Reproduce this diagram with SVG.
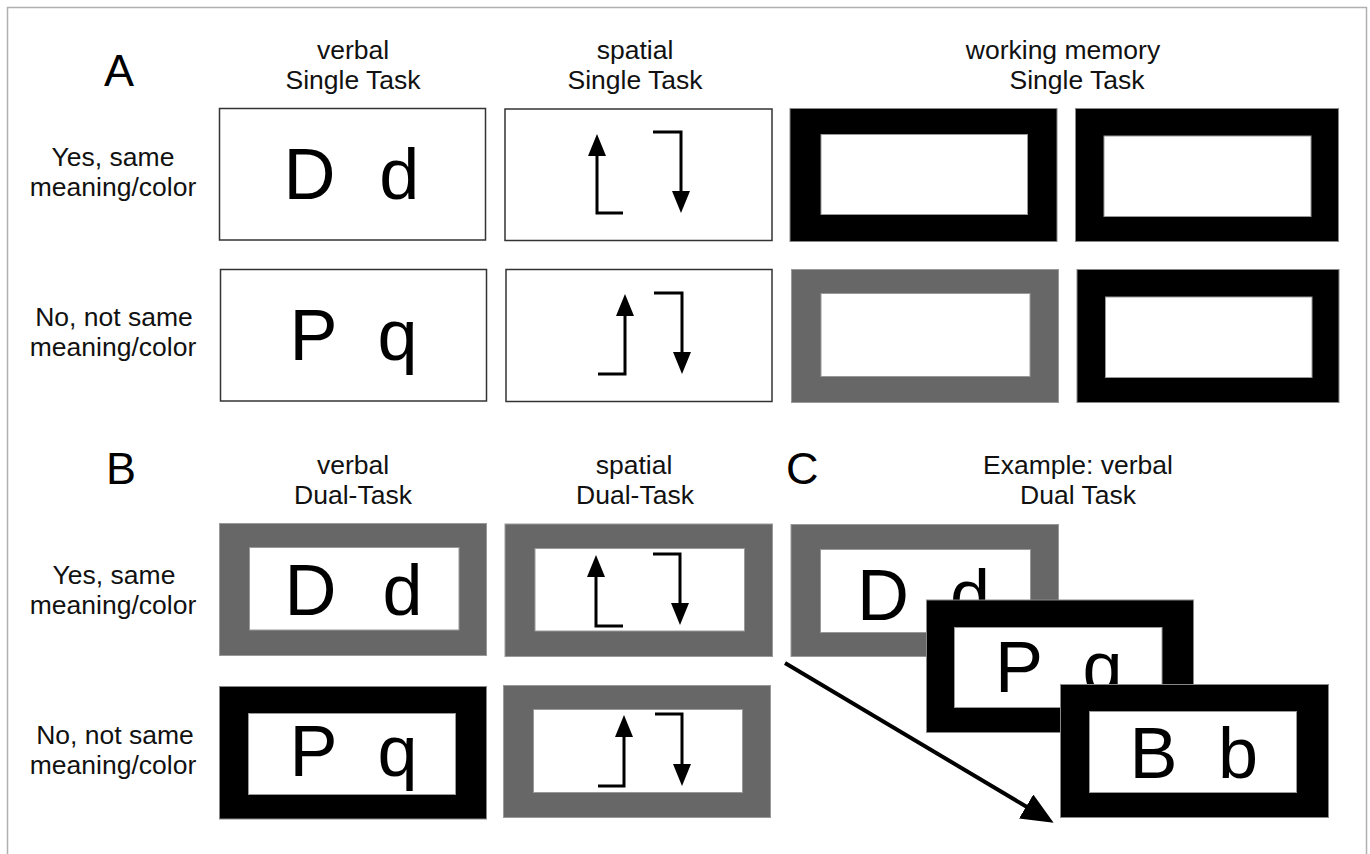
<svg xmlns="http://www.w3.org/2000/svg" width="1370" height="854" viewBox="0 0 1370 854">
<defs>
<style>
.lbl{font-family:"Liberation Sans",Arial,sans-serif;font-size:26.5px;fill:#111;text-anchor:middle}
.pl{font-family:"Liberation Sans",Arial,sans-serif;font-size:45px;fill:#000}
.big{font-family:"Liberation Sans",Arial,sans-serif;font-size:72px;fill:#000}
.plain{fill:#fff;stroke:#333;stroke-width:1.5}
.blk{fill:#000;stroke:#888;stroke-width:1}
.gry{fill:#676767;stroke:#999;stroke-width:1}
.inn{fill:#fff;stroke:#999;stroke-width:1}
.sa{fill:none;stroke:#000;stroke-width:3;marker-end:url(#ah)}
.conn{fill:none;stroke:#000;stroke-width:4;marker-end:url(#bigah)}
</style>
<marker id="ah" viewBox="0 0 22 18" refX="0" refY="9" markerWidth="22" markerHeight="18" markerUnits="userSpaceOnUse" orient="auto"><path d="M0,0 L22,9 L0,18 z" fill="#000"/></marker>
<marker id="bigah" viewBox="0 0 32 28" refX="1" refY="14" markerWidth="32" markerHeight="28" markerUnits="userSpaceOnUse" orient="auto"><path d="M0,0 L32,14 L0,28 z" fill="#000"/></marker>
</defs>
<rect x="0" y="0" width="1370" height="854" fill="#fff"/>
<rect x="7.5" y="7.5" width="1359" height="870" fill="#fff" stroke="#b0b0b0" stroke-width="1.5"/>

<g id="labels">
<text class="pl" x="104" y="86">A</text>
<text class="pl" x="106" y="484">B</text>
<text class="pl" x="786" y="484">C</text>
<text class="lbl" x="353" y="59">verbal</text>
<text class="lbl" x="353" y="89">Single Task</text>
<text class="lbl" x="635" y="59">spatial</text>
<text class="lbl" x="635" y="89">Single Task</text>
<text class="lbl" x="1063" y="59">working memory</text>
<text class="lbl" x="1077" y="89">Single Task</text>
<text class="lbl" x="353" y="474">verbal</text>
<text class="lbl" x="353" y="504">Dual-Task</text>
<text class="lbl" x="634" y="474">spatial</text>
<text class="lbl" x="635" y="504">Dual-Task</text>
<text class="lbl" x="1078" y="474">Example: verbal</text>
<text class="lbl" x="1078" y="504">Dual Task</text>
<text class="lbl" x="113" y="166">Yes, same</text>
<text class="lbl" x="113" y="196">meaning/color</text>
<text class="lbl" x="114" y="326">No, not same</text>
<text class="lbl" x="113" y="356">meaning/color</text>
<text class="lbl" x="114" y="584">Yes, same</text>
<text class="lbl" x="113" y="614">meaning/color</text>
<text class="lbl" x="115" y="744">No, not same</text>
<text class="lbl" x="113" y="774">meaning/color</text>
</g>

<g id="verbal-single-yes">
<rect class="plain" x="219.5" y="108.5" width="266" height="131.5"/>
<text class="big" x="283.5 335 379.3" y="199">D d</text>
</g>
<g id="verbal-single-no">
<rect class="plain" x="220.5" y="269.5" width="266" height="131.5"/>
<text class="big" x="289.5 335 377.5" y="360">P q</text>
</g>
<g id="spatial-single-yes">
<rect class="plain" x="505" y="109" width="267" height="131.5"/>
<path class="sa" d="M623,213 H597 V156"/>
<path class="sa" d="M653,132 H681 V191"/>
</g>
<g id="spatial-single-no">
<rect class="plain" x="506" y="269.5" width="266" height="132"/>
<path class="sa" d="M598,374 H625 V316"/>
<path class="sa" d="M654,293 H682 V352"/>
</g>
<g id="wm-single-1">
<rect class="blk" x="790" y="108.5" width="267" height="133"/>
<rect class="inn" x="821" y="134.5" width="206.5" height="80"/>
</g>
<g id="wm-single-2">
<rect class="blk" x="1075.5" y="108.5" width="263" height="133"/>
<rect class="inn" x="1104" y="136" width="207" height="80.5"/>
</g>
<g id="wm-single-3">
<rect class="gry" x="791.5" y="269.5" width="267" height="133"/>
<rect class="inn" x="821" y="293.5" width="209" height="83"/>
</g>
<g id="wm-single-4">
<rect class="blk" x="1077" y="269.5" width="262" height="133"/>
<rect class="inn" x="1105.5" y="297" width="206.5" height="80.5"/>
</g>

<g id="verbal-dual-yes">
<rect class="gry" x="219.5" y="523.5" width="267" height="132"/>
<rect class="inn" x="249.5" y="547.5" width="209.5" height="82.5"/>
<text class="big" x="284.6 335 382.6" y="615">D d</text>
</g>
<g id="verbal-dual-no">
<rect class="blk" x="219.5" y="686.5" width="267" height="132.5"/>
<rect class="inn" x="248.5" y="713.5" width="207" height="81"/>
<text class="big" x="289.6 335 377.6" y="775.5">P q</text>
</g>
<g id="spatial-dual-yes">
<rect class="gry" x="505" y="524" width="267.5" height="132.5"/>
<rect class="inn" x="535" y="548.5" width="209.5" height="82.5"/>
<path class="sa" d="M623,626 H596 V577"/>
<path class="sa" d="M653,554 H680 V603"/>
</g>
<g id="spatial-dual-no">
<rect class="gry" x="503.5" y="685.5" width="267" height="132"/>
<rect class="inn" x="533.5" y="709.5" width="209" height="83"/>
<path class="sa" d="M598,786 H624 V737"/>
<path class="sa" d="M655,714 H682 V764"/>
</g>

<g id="example-1">
<rect class="gry" x="791" y="524.5" width="267.5" height="132"/>
<rect class="inn" x="820.5" y="549.5" width="210" height="83"/>
<text class="big" x="857 905 950" y="620">D d</text>
</g>
<g id="example-2">
<rect class="blk" x="926.5" y="600" width="267" height="132.5"/>
<rect class="inn" x="954.5" y="627.5" width="207.5" height="80"/>
<text class="big" x="995 1045 1082.4" y="691.5">P q</text>
</g>
<g id="example-3">
<rect class="blk" x="1060.5" y="684.5" width="268" height="133"/>
<rect class="inn" x="1089.5" y="711.5" width="207" height="81"/>
<text class="big" x="1129.5 1180 1218" y="778">B b</text>
</g>

<g id="connectors">
<path class="conn" d="M785,663 L1027,807"/>
</g>
</svg>
